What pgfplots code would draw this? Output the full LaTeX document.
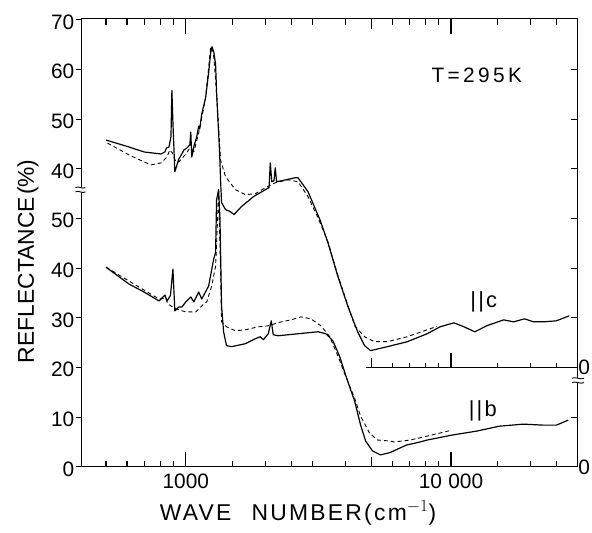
\documentclass[border=0pt]{standalone}
\usepackage{fontspec}
\setmainfont{Liberation Sans}
\newfontfamily\widefont[LetterSpace=10]{Liberation Sans}
\newfontfamily\vwidefont[LetterSpace=16]{Liberation Sans}
\usepackage{pgfplots}
\pgfplotsset{compat=1.18}
\pgfplotsset{every axis/.append style={
    axis line style={line width=1.1pt},
    tick style={black,line width=1.1pt},
    tick label style={font=\fontsize{21}{24}\selectfont}}}
\tikzset{
  solidc/.style={black,line width=1.2pt,line join=round},
  dashc/.style={black,line width=0.9pt,dash pattern=on 4pt off 3pt,line join=round},
}
\begin{document}
\begin{tikzpicture}
% main axis: data and x ticks
\begin{axis}[scale only axis, width=499pt, height=451pt,
  xmode=log, xmin=404, xmax=29900, ymin=0, ymax=90.2,
  name=main, clip=false,
  xtick={1000,10000}, xticklabels={1000,10\hspace{0.3em}000},
  minor xtick={500,600,700,800,900,1500,2000,2500,3000,4000,6000,7000,8000,9000,15000,20000,25000},
  major tick length=15pt, minor tick length=6pt,
  tick align=inside, xtick pos=both, ytick=\empty,
  xticklabel style={inner sep=0pt, yshift=-7pt}]
% ||c measured (offset scale)
\addplot[solidc] coordinates {(500,65.8) (611,64.4) (696,63.4) (806,63.0) (834,63.4) (845,64.2) (864,64.4) (879,66.5) (886,75.8) (893,70) (909,59.4) (941,62) (966,63) (983,63.8) (1009,64.2) (1035,64.8) (1044,67.4) (1053,62.4) (1072,64.5) (1100,66.5) (1118,68.6) (1128,68) (1148,71.0) (1188,74.4) (1220,79.5) (1241,83.4) (1255,84.6) (1275,83.5) (1295,81) (1306,75.5) (1341,63.2) (1352,57.8) (1364,53.2) (1412,51.8) (1470,51.4) (1520,50.8) (1621,52.4) (1798,54.4) (1994,55.8) (2060,56.2) (2082,61.2) (2110,57.4) (2150,57.6) (2174,60.2) (2200,57.4) (2582,58.2) (2650,58.2) (2889,55.4) (3203,49.8) (3432,45.2) (3741,38.4) (4079,32.4) (4446,27.2) (4723,24.4) (4974,23.4) (5758,24.2) (6843,25.2) (8132,26.8) (9095,28.2) (10261,29.0) (11187,28.2) (12300,27.2) (13641,28.4) (15795,29.6) (17218,29.2) (18930,29.8) (20460,29.2) (22300,29.2) (24950,29.4) (27910,30.4)};
% ||c calculated
\addplot[dashc] coordinates {(506,65.2) (611,62.8) (696,61.4) (739,60.8) (806,61.2) (849,62.4) (870,63.8) (890,63.2) (917,61.4) (941,61.4) (1000,63.0) (1030,64.0) (1060,63.8) (1072,63.4) (1118,67.2) (1188,74.4) (1241,84.6) (1270,83.5) (1295,78) (1329,68.4) (1352,61.8) (1412,58.4) (1539,55.8) (1678,54.8) (1829,55.0) (1994,56.2) (2174,57.2) (2431,57.8) (2650,57.4) (2889,54.4) (3149,50.2) (3432,45.4) (3741,38.6) (4079,32.6) (4333,28.4) (4723,26.2) (5148,25.2) (5758,25.2) (6843,26.2) (8132,27.6) (8864,28.3)};
% ||b measured
\addplot[solidc] coordinates {(500,40.2) (611,36.8) (696,35.2) (792,33.4) (834,34.6) (849,33.4) (875,34.5) (894,39.8) (909,31.4) (941,32.2) (966,32.2) (1000,33.2) (1009,33.4) (1044,34.2) (1072,33.2) (1118,35.2) (1148,33.8) (1219,36.4) (1273,41.8) (1295,43.2) (1306,53.8) (1329,55.8) (1345,50) (1364,32.4) (1388,27.2) (1424,24.4) (1487,24.2) (1678,24.8) (1829,25.8) (1909,26.2) (1960,25.6) (2046,26.8) (2100,29.4) (2136,26.6) (2230,26.4) (2650,26.8) (3149,27.2) (3374,26.8) (3584,25.4) (3806,22.2) (4009,18.4) (4333,13.2) (4563,8.4) (4764,5.2) (5060,3.2) (5422,2.4) (5909,2.9) (6300,3.6) (6800,4.4) (7500,4.9) (8132,5.4) (10087,6.4) (12514,7.2) (15260,8.2) (18767,8.6) (22300,8.4) (24950,8.4) (27670,9.4)};
% ||b calculated
\addplot[dashc] coordinates {(500,40.2) (611,37.4) (792,33.8) (840,34.0) (855,32.8) (917,31.8) (1000,31.2) (1090,31.2) (1168,32.8) (1199,33.2) (1252,36.4) (1295,40.4) (1318,50) (1329,55.6) (1345,45) (1364,29.2) (1424,28.2) (1539,27.4) (1678,27.6) (1877,28.2) (2046,28.4) (2289,29.2) (2495,29.6) (2720,30.2) (2965,29.8) (3231,28.4) (3492,26.2) (3741,22.4) (4009,18.2) (4333,13.8) (4563,10.2) (4931,6.8) (5283,5.4) (5909,5.2) (6117,5.0) (7022,5.4) (8132,6.2) (9414,7.0) (10087,7.4)};
% inner baseline for ||c
\draw[line width=1.1pt] (axis cs:4800,20) -- (axis cs:29900,20);
\draw[line width=1.1pt] (axis cs:5000,20) -- ++(0pt,10pt);
\draw[line width=1.1pt] (axis cs:10000,20) -- ++(0pt,15pt);
\pgfplotsinvokeforeach{6000,7000,8000,9000,15000,20000,25000}{\draw[line width=1.1pt] (axis cs:#1,20) -- ++(0pt,5pt);}
% texts
\node[font=\vwidefont\fontsize{21}{24}\selectfont] at (rel axis cs:0.7976,0.8736) {T=295K};
\node[font=\widefont\fontsize{22}{24}\selectfont] at (rel axis cs:0.8116,0.368) {||c};
\node[font=\widefont\fontsize{22}{24}\selectfont] at (rel axis cs:0.8096,0.124) {||b};
\node[font=\widefont\fontsize{23}{26}\selectfont] at (rel axis cs:0.437,-0.102) {WAVE\hspace{0.5em} NUMBER(cm$^{-1}$)};
\node[font=\fontsize{23}{26}\selectfont, rotate=90] at (rel axis cs:-0.108,0.459) {REFLECTANCE\hspace{0.1em}(\%)};
\end{axis}
% left y ticks (outside)
\begin{axis}[scale only axis, width=499pt, height=451pt,
  xmode=log, xmin=404, xmax=29900, ymin=0, ymax=90.2,
  xtick=\empty, ytick={0,10,20,30,40,50,60,70,80,90},
  yticklabels={0,10,20,30,40,50,40,50,60,70},
  ytick pos=left, tick align=outside, major tick length=6pt,
  yticklabel style={inner sep=1pt, yshift=-2pt}]
\end{axis}
% right y ticks (inside)
\begin{axis}[scale only axis, width=499pt, height=451pt,
  xmode=log, xmin=404, xmax=29900, ymin=0, ymax=90.2,
  xtick=\empty, ytick={0,10,20,30,40,50,60,70,80},
  yticklabels={0,,0,,,,,,},
  ytick pos=right, yticklabel pos=right, tick align=inside, major tick length=6pt,
  yticklabel style={inner sep=1pt}]
\end{axis}
% 5000 ticks
\begin{axis}[scale only axis, width=499pt, height=451pt,
  xmode=log, xmin=404, xmax=29900, ymin=0, ymax=90.2,
  ytick=\empty, xtick={5000}, xticklabels={},
  xtick pos=both, tick align=inside, major tick length=10pt]
\end{axis}
% axis breaks
\fill[white] ([shift={(-3pt,276.5pt)}]main.south west) rectangle ++(6pt,5pt);
\draw[line width=0.9pt] ([shift={(-6pt,276.8pt)}]main.south west) .. controls +(3pt,2pt) and +(-3pt,-2pt) .. ++(10pt,0pt);
\draw[line width=0.9pt] ([shift={(-6pt,281.2pt)}]main.south west) .. controls +(3pt,2pt) and +(-3pt,-2pt) .. ++(10pt,0pt);
\fill[white] ([shift={(-3pt,84.5pt)}]main.south east) rectangle ++(6pt,5pt);
\draw[line width=0.9pt] ([shift={(-5pt,84.8pt)}]main.south east) .. controls +(3pt,2pt) and +(-3pt,-2pt) .. ++(12pt,0pt);
\draw[line width=0.9pt] ([shift={(-5pt,89.2pt)}]main.south east) .. controls +(3pt,2pt) and +(-3pt,-2pt) .. ++(12pt,0pt);
\pgfresetboundingbox
\path[use as bounding box] ([shift={(-82pt,-66.5pt)}]main.south west) rectangle ++(596pt,536.5pt);
\end{tikzpicture}
\end{document}
